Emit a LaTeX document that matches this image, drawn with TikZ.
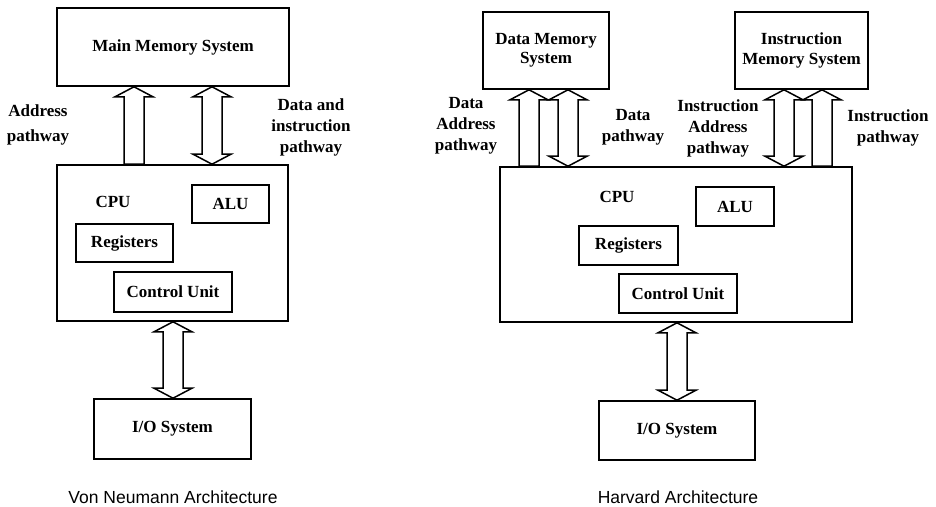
\documentclass[tikz,border=0pt]{standalone}
\usepackage{fontspec}
\setmainfont{Liberation Serif}
\newfontfamily\capfont{Liberation Sans}
\usetikzlibrary{calc}

% block arrow geometry (pt)
\newcommand\shaftw{10}
\newcommand\headw{19}
\newcommand\headl{10}

% one-way block arrow from the top of #1 up to the bottom of #2 at x=#3
\newcommand\singlearr[3]{%
  \path (#3,0) coordinate (ax);
  \path (#1.north -| ax) coordinate (ab) (#2.south -| ax) coordinate (at);
  \draw[blockarrow] ($(ab)+(-\shaftw,0)$) -- ($(at)+(-\shaftw,\headl)$)
    -- ($(at)+(-\headw,\headl)$) -- (at) -- ($(at)+(\headw,\headl)$)
    -- ($(at)+(\shaftw,\headl)$) -- ($(ab)+(\shaftw,0)$) -- cycle;}

% two-way block arrow between the top of #1 and the bottom of #2 at x=#3
\newcommand\doublearr[3]{%
  \path (#3,0) coordinate (ax);
  \path (#1.north -| ax) coordinate (ab) (#2.south -| ax) coordinate (at);
  \draw[blockarrow] (at) -- ($(at)+(\headw,\headl)$) -- ($(at)+(\shaftw,\headl)$)
    -- ($(ab)+(\shaftw,-\headl)$) -- ($(ab)+(\headw,-\headl)$) -- (ab)
    -- ($(ab)+(-\headw,-\headl)$) -- ($(ab)+(-\shaftw,-\headl)$)
    -- ($(at)+(-\shaftw,\headl)$) -- ($(at)+(-\headw,\headl)$) -- cycle;}

\tikzset{
  box/.style={draw, line width=1.6pt, inner sep=0pt, align=center,
    font=\fontsize{17}{19.5}\selectfont\bfseries},
  lbl/.style={align=center, inner sep=0pt,
    font=\fontsize{17}{21}\selectfont\bfseries},
  caption/.style={inner sep=0pt, font=\fontsize{17.5}{20}\selectfont\capfont},
  blockarrow/.style={draw, line width=1.5pt, fill=white, line join=miter},
}

\begin{document}
\begin{tikzpicture}[x=1pt, y=-1pt]
\useasboundingbox (0,0) rectangle (936,506);
\fill[white] (0,0) rectangle (936,506);

% ---------------- Von Neumann ----------------
\node[box, minimum width=232, minimum height=78] (mem) at (173,47) {Main Memory System};
\node[box, minimum width=231, minimum height=156] (cpu) at (172.5,243) {};
\node[lbl] (cpul) at (113,202) {CPU};
\node[box, minimum width=77, minimum height=38] (alu) at (230.5,204) {ALU};
\node[box, minimum width=97, minimum height=38] (reg) at (124.5,243) {Registers};
\node[box, minimum width=118, minimum height=40] (cu) at (173,292) {Control Unit};
\node[box, minimum width=157, minimum height=60] (io) at (172.5,429) {I/O System};

\singlearr{cpu}{mem}{134}
\doublearr{cpu}{mem}{212}
\doublearr{io}{cpu}{173}

\node[lbl, font=\fontsize{17}{25}\selectfont\bfseries] (addrl) at (38,125) {Address\\pathway};
\node[lbl] (datal) at (311,127) {Data and\\instruction\\pathway};
\node[caption] (vncap) at (173,497) {Von Neumann Architecture};

% ---------------- Harvard ----------------
\node[box, minimum width=126, minimum height=77] (dmem) at (546,50.5) {Data Memory\\System};
\node[box, minimum width=133, minimum height=77] (imem) at (801.5,50.5) {Instruction\\Memory System};
\node[box, minimum width=352, minimum height=155] (cpu2) at (676,244.5) {};
\node[lbl] (cpul2) at (617,197) {CPU};
\node[box, minimum width=78, minimum height=39] (alu2) at (735,206.5) {ALU};
\node[box, minimum width=99, minimum height=39] (reg2) at (628.5,245.5) {Registers};
\node[box, minimum width=118, minimum height=39] (cu2) at (678,293.5) {Control Unit};
\node[box, minimum width=156, minimum height=59] (io2) at (677,430.5) {I/O System};

\singlearr{cpu2}{dmem}{529}
\doublearr{cpu2}{dmem}{568}
\doublearr{cpu2}{imem}{784}
\singlearr{cpu2}{imem}{822}
\doublearr{io2}{cpu2}{677}

\node[lbl] (daddrl) at (466,126) {Data\\Address\\pathway};
\node[lbl] (dpathl) at (633,127) {Data\\pathway};
\node[lbl] (iaddrl) at (718,128) {Instruction\\Address\\pathway};
\node[lbl] (ipathl) at (888,128) {Instruction\\pathway};
\node[caption] (hcap) at (678,497) {Harvard Architecture};
\end{tikzpicture}
\end{document}
